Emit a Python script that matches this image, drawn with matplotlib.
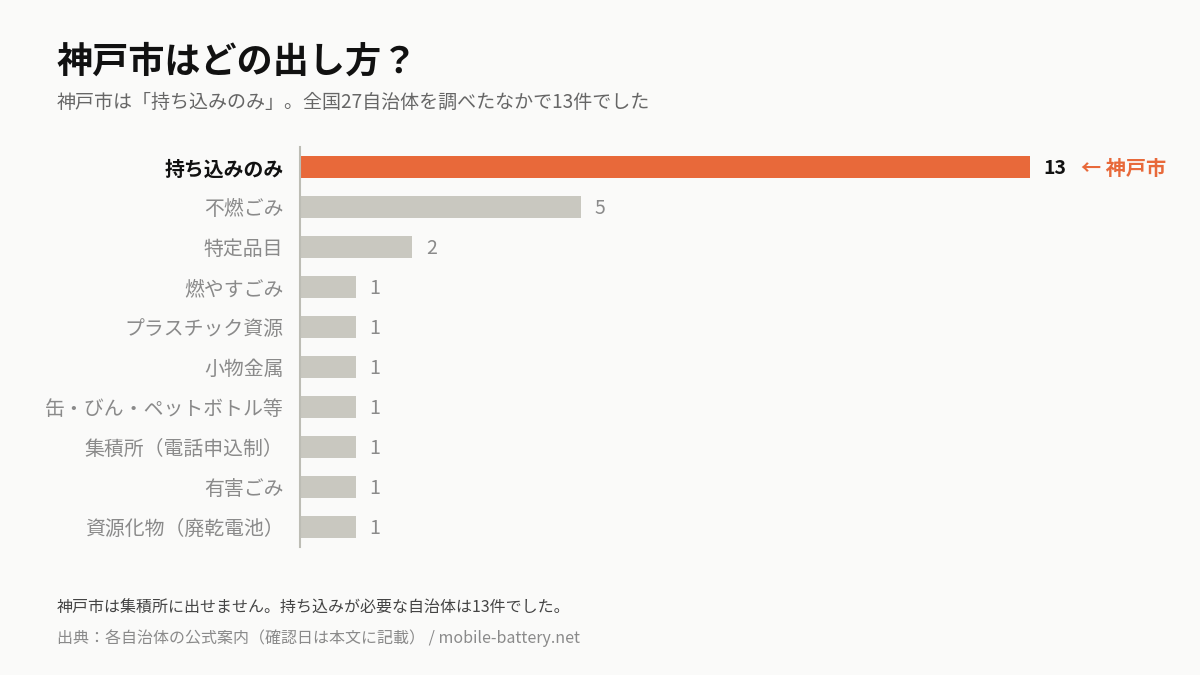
import matplotlib
matplotlib.use("Agg")
import matplotlib.pyplot as plt

plt.rcParams['font.family'] = ['Noto Sans CJK JP', 'DejaVu Sans']

categories = ["持ち込みのみ", "不燃ごみ", "特定品目", "燃やすごみ", "プラスチック資源", "小物金属",
              "缶・びん・ペットボトル等", "集積所（電話申込制）", "有害ごみ", "資源化物（廃乾電池）"]
values = [13, 5, 2, 1, 1, 1, 1, 1, 1, 1]

BG = "#FAFAF9"
ORANGE = "#E8693A"
GREY = "#C9C8C0"
TXT = "#8A8A8A"

fig = plt.figure(figsize=(12, 6.75), dpi=100, facecolor=BG)
ax = fig.add_axes([0.25, 1 - 547/675, 730/1200, 400/675], facecolor=BG)
ys = list(range(len(categories)))
colors = [ORANGE] + [GREY] * (len(categories) - 1)
ax.barh(ys, values, height=0.56, color=colors)
ax.set_xlim(0, 13)
ax.set_ylim(9.5, -0.5)
for s in ["top", "right", "bottom"]:
    ax.spines[s].set_visible(False)
ax.spines["left"].set_color("#BDBDB5")
ax.spines["left"].set_linewidth(1.5)
ax.set_xticks([])
ax.set_yticks(ys)
ax.set_yticklabels(categories, fontsize=14.3)
ax.tick_params(axis="y", length=0, pad=12)
for i, lab in enumerate(ax.get_yticklabels()):
    if i == 0:
        lab.set_color("#111111"); lab.set_fontweight("bold")
    else:
        lab.set_color(TXT)
for i, v in enumerate(values):
    ax.text(v + 0.24, i + 0.03, str(v), va="center", ha="left", fontsize=14,
            color="#111111" if i == 0 else TXT, fontweight="bold" if i == 0 else "normal",
            clip_on=False)
ax.text(13 + 0.9, 0.03, "← 神戸市", va="center", ha="left", fontsize=14.5,
        color=ORANGE, fontweight="bold", clip_on=False)

fig.text(57/1200, 1 - 62/675, "神戸市はどの出し方？", fontsize=26, fontweight="bold",
         color="#111111", va="center")
fig.text(57/1200, 1 - 102/675, "神戸市は「持ち込みのみ」。全国27自治体を調べたなかで13件でした",
         fontsize=13.7, color="#666666", va="center")
fig.text(57/1200, 1 - 608/675, "神戸市は集積所に出せません。持ち込みが必要な自治体は13件でした。",
         fontsize=11.5, color="#444444", va="center")
fig.text(57/1200, 1 - 638/675, "出典：各自治体の公式案内（確認日は本文に記載） / mobile-battery.net",
         fontsize=11.5, color="#8A8A8A", va="center")

fig.savefig("out.png", dpi=100, facecolor=BG)
